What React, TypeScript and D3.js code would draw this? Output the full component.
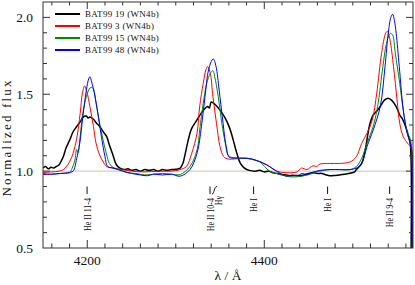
import { scaleLinear, line, curveCatmullRom, range } from "d3";

// spectra: [wavelength (Å), normalized flux]
const bat99_19: [number, number][] = [
  [4150, 1.02], [4153, 1.03], [4156, 1.015], [4159, 1.025], [4162, 1.02], [4165, 1.03], [4168, 1.04],
  [4171, 1.07], [4173, 1.095], [4176, 1.15], [4180, 1.2], [4184, 1.256], [4188, 1.29], [4192, 1.32],
  [4195, 1.35], [4199, 1.358], [4201, 1.345], [4203, 1.352], [4207, 1.337], [4210, 1.315], [4214, 1.29],
  [4218, 1.256], [4222, 1.224], [4225, 1.17], [4229, 1.105], [4233, 1.04], [4237, 1.02], [4242, 1.01],
  [4246, 1.015], [4250, 1.005], [4255, 1.01], [4260, 1.0], [4265, 1.01], [4270, 1.005], [4275, 1.01],
  [4280, 1.0], [4285, 1.01], [4290, 1.005], [4295, 1.01], [4300, 1.012], [4305, 1.02], [4308, 1.05],
  [4310, 1.095], [4314, 1.2], [4318, 1.278], [4324, 1.333], [4330, 1.387], [4336, 1.42], [4338, 1.41],
  [4340, 1.45], [4343, 1.44], [4345, 1.43], [4350, 1.397], [4356, 1.343], [4361, 1.278], [4365, 1.2],
  [4369, 1.116], [4373, 1.05], [4378, 1.018], [4383, 1.005], [4390, 1.0], [4395, 1.005], [4400, 0.995],
  [4405, 1.0], [4410, 0.99], [4415, 0.985], [4420, 0.978], [4425, 0.975], [4429, 0.97], [4435, 0.972],
  [4440, 0.97], [4445, 0.975], [4450, 0.985], [4455, 0.99], [4460, 0.985], [4465, 0.985], [4470, 0.975],
  [4474, 0.97], [4480, 0.972], [4485, 0.975], [4490, 0.98], [4497, 0.986], [4502, 0.995], [4504, 1.01],
  [4510, 1.05], [4514, 1.137], [4519, 1.3], [4523, 1.365], [4527, 1.39], [4531, 1.42], [4536, 1.463],
  [4540, 1.474], [4544, 1.46], [4549, 1.42], [4553, 1.365], [4556, 1.34], [4559, 1.3], [4563, 1.224],
  [4565, 1.17], [4565.5, 0.3],
];
const bat99_3: [number, number][] = [
  [4150, 0.99], [4160, 0.995], [4168, 1.0], [4173, 1.01], [4180, 1.06], [4184, 1.116], [4188, 1.21],
  [4192, 1.376], [4194.5, 1.506], [4197, 1.554], [4199.5, 1.517], [4203, 1.42], [4207, 1.29], [4210, 1.18],
  [4214, 1.105], [4218, 1.06], [4222, 1.03], [4229, 1.02], [4240, 1.01], [4250, 1.0], [4265, 0.995],
  [4280, 1.0], [4295, 1.0], [4305, 1.01], [4312, 1.03], [4318, 1.116], [4324, 1.246], [4327, 1.42],
  [4331, 1.571], [4334, 1.658], [4336, 1.68], [4339, 1.636], [4342, 1.484], [4346, 1.311], [4350, 1.159],
  [4354, 1.095], [4358, 1.08], [4369, 1.08], [4380, 1.084], [4391, 1.07], [4403, 1.04], [4414, 1.0],
  [4425, 0.99], [4437, 0.995], [4442, 1.02], [4448, 1.01], [4455, 1.035], [4459, 1.03], [4463, 1.046],
  [4474, 1.05], [4485, 1.05], [4497, 1.06], [4504, 1.094], [4510, 1.18], [4516, 1.246], [4522, 1.333],
  [4527, 1.506], [4532.5, 1.766], [4537, 1.896], [4539, 1.91], [4542, 1.853], [4546, 1.68], [4550, 1.463],
  [4553, 1.311], [4557, 1.224], [4562, 1.18], [4566, 1.15], [4566.5, 0.3],
];
const bat99_15: [number, number][] = [
  [4150, 0.985], [4160, 0.98], [4170, 0.985], [4180, 0.99], [4183, 1.02], [4186, 1.07], [4188, 1.14],
  [4189.5, 1.12], [4191.5, 1.2], [4195, 1.376], [4199, 1.484], [4203, 1.54], [4205, 1.545], [4207, 1.535],
  [4210, 1.44], [4214, 1.31], [4218, 1.2], [4222, 1.105], [4225, 1.05], [4229, 1.025], [4237, 1.01],
  [4245, 0.99], [4255, 0.985], [4265, 0.975], [4275, 0.98], [4285, 0.985], [4295, 0.98], [4305, 0.978],
  [4316, 1.03], [4324, 1.137], [4327, 1.267], [4331, 1.44], [4335, 1.571], [4339, 1.636], [4342, 1.653],
  [4344, 1.614], [4348, 1.484], [4352, 1.311], [4356, 1.18], [4359, 1.105], [4363, 1.09], [4373, 1.084],
  [4384, 1.08], [4390, 1.07], [4395, 1.06], [4406, 1.0], [4418, 0.978], [4429, 0.963], [4440, 0.965],
  [4452, 0.98], [4459, 0.995], [4463, 1.0], [4474, 1.01], [4485, 1.01], [4497, 1.01], [4504, 1.03],
  [4510, 1.083], [4516, 1.18], [4523, 1.29], [4528, 1.42], [4534, 1.68], [4538, 1.83], [4542.5, 1.896],
  [4545, 1.885], [4548, 1.766], [4553, 1.571], [4557, 1.397], [4561, 1.267], [4566, 1.18], [4566.5, 0.3],
];
const bat99_48: [number, number][] = [
  [4150, 0.978], [4160, 0.98], [4170, 0.985], [4178, 0.99], [4184, 1.0], [4188, 1.08], [4191.5, 1.18],
  [4195, 1.354], [4199, 1.527], [4201.6, 1.6], [4203, 1.614], [4205, 1.58], [4208.4, 1.495], [4212, 1.376],
  [4216, 1.224], [4220, 1.095], [4223, 1.03], [4229, 1.02], [4240, 1.0], [4250, 0.985], [4260, 0.975],
  [4268, 0.97], [4275, 0.98], [4285, 0.975], [4295, 0.98], [4305, 0.967], [4316, 1.01], [4324, 1.116],
  [4329, 1.29], [4333, 1.484], [4337, 1.658], [4341, 1.723], [4342.5, 1.73], [4345.5, 1.68], [4349, 1.527],
  [4353, 1.333], [4357, 1.159], [4360.5, 1.09], [4369, 1.085], [4380, 1.084], [4391, 1.07], [4403, 1.04],
  [4414, 1.0], [4425, 0.967], [4431, 0.975], [4437, 0.97], [4443, 0.985], [4448, 0.978], [4453, 0.99],
  [4459, 1.0], [4463, 1.005], [4474, 1.01], [4485, 1.01], [4497, 1.01], [4504, 1.02], [4510, 1.05],
  [4516, 1.159], [4523, 1.267], [4531, 1.42], [4536.4, 1.68], [4540, 1.896], [4543, 2.0], [4545, 2.02],
  [4547, 1.98], [4549, 1.896], [4552.5, 1.68], [4557, 1.397], [4561.5, 1.246], [4566, 1.15], [4566.5, 0.3],
];

const seriesNames = ["BAT99 19 (WN4b)", "BAT99 3 (WN4b)", "BAT99 15 (WN4b)", "BAT99 48 (WN4b)"];
const seriesData = [bat99_19, bat99_3, bat99_15, bat99_48];
const seriesColors = ["#000000", "#ff0000", "#008a00", "#0000ff"];

const xDomain = [4150, 4568];
const yDomain = [0.5, 2.1];
const xTickLabels = [4200, 4400];
const yTickLabels = [0.5, 1.0, 1.5, 2.0];

const lineNames = ["He II 11-4", "He II 10-4", "He I", "He I", "He II 9-4"];
const lineWaves = [4199.8, 4338.7, 4387.9, 4471.5, 4541.6];
const hGammaWave = 4340.5;

const width = 415;
const height = 285;
const margin = { top: 2, right: 2, bottom: 37, left: 43 };
const innerWidth = width - margin.left - margin.right;
const innerHeight = height - margin.top - margin.bottom;
const serif = '"Liberation Serif", "Times New Roman", Tinos, "DejaVu Serif", serif';
const textStyle = { fontFamily: serif };

const App = () => {
  const x = scaleLinear().domain(xDomain).range([0, innerWidth]);
  const y = scaleLinear().domain(yDomain).range([innerHeight, 0]);
  const path = line<[number, number]>()
    .x(d => x(d[0]))
    .y(d => y(d[1]))
    .curve(curveCatmullRom);

  const xMinor = range(4160, 4568, 20);
  const yMinor = range(6, 21).map(v => v / 10);
  const axisColor = "#333";

  return (
    <svg width={width} height={height} style={{ position: "absolute", left: 0, top: 0, display: "block" }}>
      <defs>
        <clipPath id="plot-clip">
          <rect x={0} y={0} width={innerWidth} height={innerHeight} />
        </clipPath>
      </defs>
      <g transform={`translate(${margin.left},${margin.top})`}>
        {/* reference level */}
        <line x1={0} x2={innerWidth} y1={y(1)} y2={y(1)} stroke="#c4c4c4" strokeWidth={1} />

        <g clipPath="url(#plot-clip)">
          {seriesData.map((d, i) => (
            <path key={seriesNames[i]} d={path(d) || ""} fill="none" stroke={seriesColors[i]}
              strokeWidth={i === 0 ? 1.5 : 1} />
          ))}
        </g>

        {/* frame + inward ticks */}
        <rect x={0} y={0} width={innerWidth} height={innerHeight} fill="none" stroke={axisColor} strokeWidth={1} />
        {xMinor.map(t => {
          const major = xTickLabels.includes(t);
          const len = major ? 8 : 4.5;
          return (
            <g key={"xt" + t} stroke={axisColor}>
              <line x1={x(t)} x2={x(t)} y1={innerHeight} y2={innerHeight - len} />
              <line x1={x(t)} x2={x(t)} y1={0} y2={len - 1} />
            </g>
          );
        })}
        {yMinor.map(t => {
          const major = yTickLabels.some(v => Math.abs(v - t) < 1e-6);
          const len = major ? 7 : 4;
          return (
            <g key={"yt" + t} stroke={axisColor}>
              <line x1={0} x2={len} y1={y(t)} y2={y(t)} />
              <line x1={innerWidth} x2={innerWidth - len} y1={y(t)} y2={y(t)} />
            </g>
          );
        })}

        {xTickLabels.map(t => (
          <text key={"xl" + t} x={x(t)} y={innerHeight + 16.5} textAnchor="middle"
            style={textStyle} fontSize={13.5} fill="#111">{t}</text>
        ))}
        {yTickLabels.map(t => (
          <text key={"yl" + t} x={-10} y={y(t)} dy="0.35em" textAnchor="end"
            style={textStyle} fontSize={13.5} fill="#111">{t.toFixed(1)}</text>
        ))}

        {/* line identifications */}
        {lineNames.map((name, i) => {
          const lx = x(lineWaves[i]);
          return (
            <g key={"ln" + i}>
              <line x1={lx} x2={lx} y1={184.5} y2={192} stroke="#111" strokeWidth={1} />
              <text transform={`translate(${lx},${196}) rotate(-90) scale(0.8,1)`} dy="0.35em"
                textAnchor="end" style={textStyle} fontSize={10} fill="#111">{name}</text>
            </g>
          );
        })}
        <path d={`M${x(hGammaWave) + 0.5},192 C${x(hGammaWave) + 3},192 ${x(hGammaWave) + 2},184.5 ${x(hGammaWave) + 5.5},184.5`}
          fill="none" stroke="#111" strokeWidth={1} />
        <text transform={`translate(${x(hGammaWave) + 6.5},${194}) rotate(-90) scale(0.8,1)`} dy="0.35em"
          textAnchor="end" style={textStyle} fontSize={10} fill="#111">Hγ</text>

        {/* legend */}
        {seriesNames.map((name, i) => (
          <g key={"lg" + i} transform={`translate(12,${12 + i * 12})`}>
            <line x1={0} x2={25} y1={0} y2={0} stroke={seriesColors[i]} strokeWidth={2} />
            <text x={30} y={0} dy="0.35em" style={textStyle} fontSize={9} letterSpacing={0.3} fill="#111">{name}</text>
          </g>
        ))}
      </g>

      {/* axis titles */}
      <text x={margin.left + innerWidth / 2} y={280} textAnchor="middle" style={textStyle} fontSize={13.5} fill="#111">λ / Å</text>
      <text transform="translate(11,138.5) rotate(-90)" textAnchor="middle" style={textStyle} fontSize={13}
        textLength={116} lengthAdjust="spacing" fill="#111">Normalized flux</text>
    </svg>
  );
};

export default App;
